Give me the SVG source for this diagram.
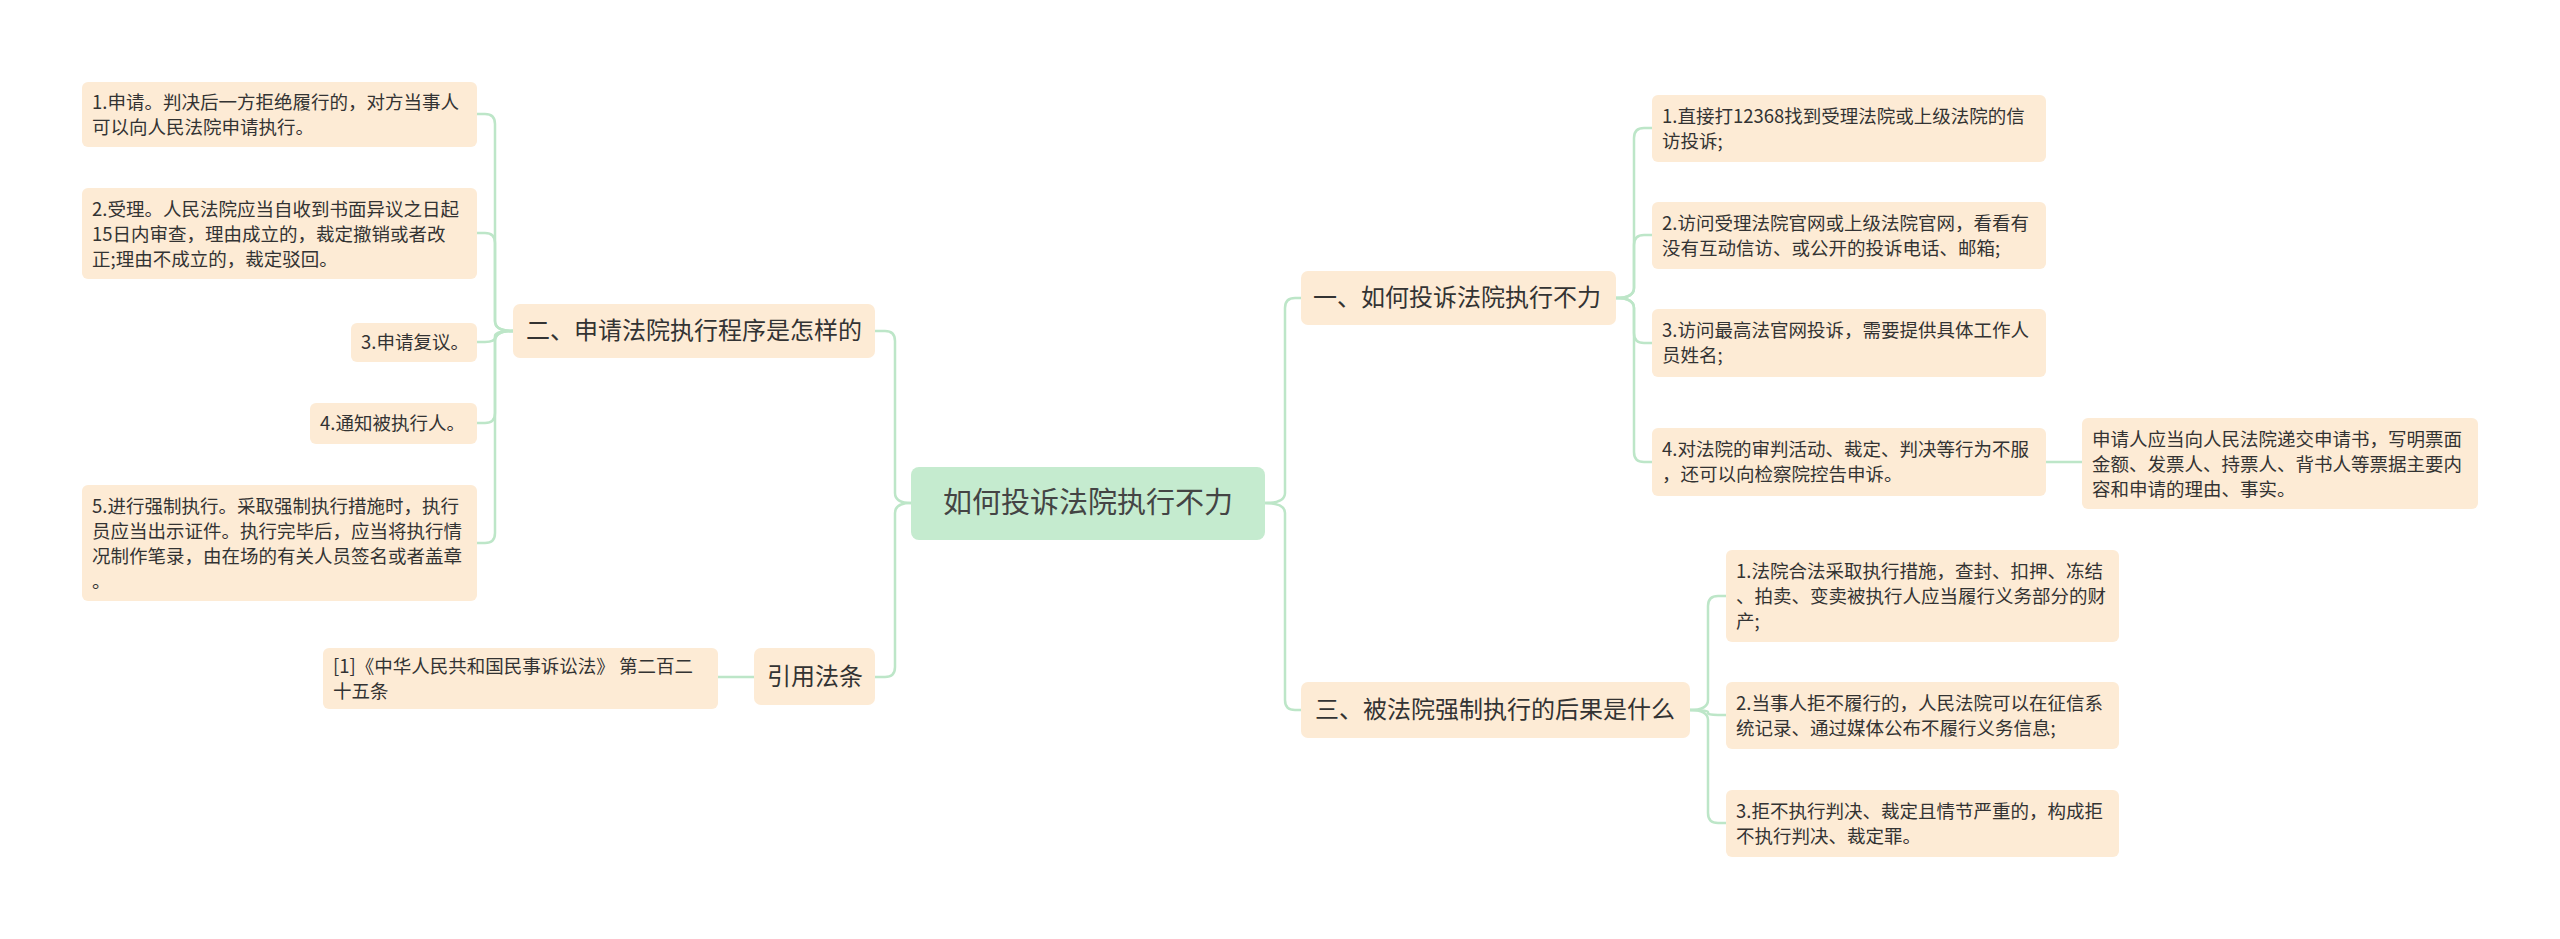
<svg xmlns="http://www.w3.org/2000/svg" width="2560" height="939" viewBox="0 0 2560 939">
<style>
text{font-family:"Noto Sans CJK SC","Noto Sans",sans-serif;fill:#333}
.leaf{fill:#fdebd5}
.lt{font-size:18.5px}
.bt{font-size:24px}
.rt{font-size:29px;fill:#444}
.c{fill:none;stroke:#bde6c8;stroke-width:2.5}
</style>
<rect width="2560" height="939" fill="#fff"/>
<g id="connectors">
<path class="c" d="M911 503 Q895 503 895 493 V341 Q895 331 885 331 H875"/>
<path class="c" d="M911 503 Q895 503 895 513 V667 Q895 677 885 677 H875"/>
<path class="c" d="M1265 503 Q1285 503 1285 493 V308 Q1285 298 1295 298 H1301"/>
<path class="c" d="M1265 503 Q1285 503 1285 513 V700 Q1285 710 1295 710 H1301"/>
<path class="c" d="M513 331 Q495 331 495 321 V124 Q495 114 485 114 H477"/>
<path class="c" d="M513 331 Q495 331 495 321 V243 Q495 233 485 233 H477"/>
<path class="c" d="M513 331 Q495 331 495 336 V337 Q495 342 485 342 H477"/>
<path class="c" d="M513 331 Q495 331 495 341 V413 Q495 423 485 423 H477"/>
<path class="c" d="M513 331 Q495 331 495 341 V533 Q495 543 485 543 H477"/>
<path class="c" d="M754 677 H718"/>
<path class="c" d="M1616 298 Q1634 298 1634 288 V138 Q1634 128 1644 128 H1652"/>
<path class="c" d="M1616 298 Q1634 298 1634 288 V245 Q1634 235 1644 235 H1652"/>
<path class="c" d="M1616 298 Q1634 298 1634 308 V333 Q1634 343 1644 343 H1652"/>
<path class="c" d="M1616 298 Q1634 298 1634 308 V452 Q1634 462 1644 462 H1652"/>
<path class="c" d="M2046 462 H2082"/>
<path class="c" d="M1690 710 Q1708 710 1708 700 V606 Q1708 596 1718 596 H1726"/>
<path class="c" d="M1690 710 Q1708 710 1708 712 V713 Q1708 715 1718 715 H1726"/>
<path class="c" d="M1690 710 Q1708 710 1708 720 V813 Q1708 823 1718 823 H1726"/>
</g>
<g id="root"><rect x="911" y="467" width="354" height="73" rx="8" fill="#c5ebcf"/><text class="rt" x="1088" y="513" text-anchor="middle">如何投诉法院执行不力</text></g>
<g id="b2"><rect x="513" y="304" width="362" height="54" rx="7" class="leaf"/><text class="bt" x="526" y="339">二、申请法院执行程序是怎样的</text></g>
<g id="cite"><rect x="754" y="648" width="121" height="57" rx="7" class="leaf"/><text class="bt" x="767" y="685">引用法条</text></g>
<g id="b1"><rect x="1301" y="271" width="315" height="54" rx="7" class="leaf"/><text class="bt" x="1313" y="306">一、如何投诉法院执行不力</text></g>
<g id="b3"><rect x="1301" y="682" width="389" height="56" rx="7" class="leaf"/><text class="bt" x="1315" y="718">三、被法院强制执行的后果是什么</text></g>
<g id="L1"><rect x="82" y="82" width="395" height="65" rx="6" class="leaf"/><text class="lt" x="92" y="109">1.申请。判决后一方拒绝履行的，对方当事人<tspan x="92" dy="25">可以向人民法院申请执行。</tspan></text></g>
<g id="L2"><rect x="82" y="188" width="395" height="91" rx="6" class="leaf"/><text class="lt" x="92" y="216">2.受理。人民法院应当自收到书面异议之日起<tspan x="92" dy="25">15日内审查，理由成立的，裁定撤销或者改</tspan><tspan x="92" dy="25">正;理由不成立的，裁定驳回。</tspan></text></g>
<g id="L3"><rect x="351" y="323" width="126" height="39" rx="6" class="leaf"/><text class="lt" x="361" y="349">3.申请复议。</text></g>
<g id="L4"><rect x="310" y="403" width="167" height="41" rx="6" class="leaf"/><text class="lt" x="320" y="430">4.通知被执行人。</text></g>
<g id="L5"><rect x="82" y="485" width="395" height="116" rx="6" class="leaf"/><text class="lt" x="92" y="513">5.进行强制执行。采取强制执行措施时，执行<tspan x="92" dy="25">员应当出示证件。执行完毕后，应当将执行情</tspan><tspan x="92" dy="25">况制作笔录，由在场的有关人员签名或者盖章</tspan><tspan x="92" dy="25">。</tspan></text></g>
<g id="C1"><rect x="323" y="648" width="395" height="61" rx="6" class="leaf"/><text class="lt" x="333" y="673">[1]《中华人民共和国民事诉讼法》 第二百二<tspan x="333" dy="25">十五条</tspan></text></g>
<g id="R1"><rect x="1652" y="95" width="394" height="67" rx="6" class="leaf"/><text class="lt" x="1662" y="123">1.直接打12368找到受理法院或上级法院的信<tspan x="1662" dy="25">访投诉;</tspan></text></g>
<g id="R2"><rect x="1652" y="202" width="394" height="67" rx="6" class="leaf"/><text class="lt" x="1662" y="230">2.访问受理法院官网或上级法院官网，看看有<tspan x="1662" dy="25">没有互动信访、或公开的投诉电话、邮箱;</tspan></text></g>
<g id="R3"><rect x="1652" y="309" width="394" height="68" rx="6" class="leaf"/><text class="lt" x="1662" y="337">3.访问最高法官网投诉，需要提供具体工作人<tspan x="1662" dy="25">员姓名;</tspan></text></g>
<g id="R4"><rect x="1652" y="428" width="394" height="68" rx="6" class="leaf"/><text class="lt" x="1662" y="456">4.对法院的审判活动、裁定、判决等行为不服<tspan x="1662" dy="25">，还可以向检察院控告申诉。</tspan></text></g>
<g id="R4a"><rect x="2082" y="418" width="396" height="91" rx="6" class="leaf"/><text class="lt" x="2092" y="446">申请人应当向人民法院递交申请书，写明票面<tspan x="2092" dy="25">金额、发票人、持票人、背书人等票据主要内</tspan><tspan x="2092" dy="25">容和申请的理由、事实。</tspan></text></g>
<g id="T1"><rect x="1726" y="550" width="393" height="92" rx="6" class="leaf"/><text class="lt" x="1736" y="578">1.法院合法采取执行措施，查封、扣押、冻结<tspan x="1736" dy="25">、拍卖、变卖被执行人应当履行义务部分的财</tspan><tspan x="1736" dy="25">产;</tspan></text></g>
<g id="T2"><rect x="1726" y="682" width="393" height="67" rx="6" class="leaf"/><text class="lt" x="1736" y="710">2.当事人拒不履行的，人民法院可以在征信系<tspan x="1736" dy="25">统记录、通过媒体公布不履行义务信息;</tspan></text></g>
<g id="T3"><rect x="1726" y="790" width="393" height="67" rx="6" class="leaf"/><text class="lt" x="1736" y="818">3.拒不执行判决、裁定且情节严重的，构成拒<tspan x="1736" dy="25">不执行判决、裁定罪。</tspan></text></g>
</svg>
